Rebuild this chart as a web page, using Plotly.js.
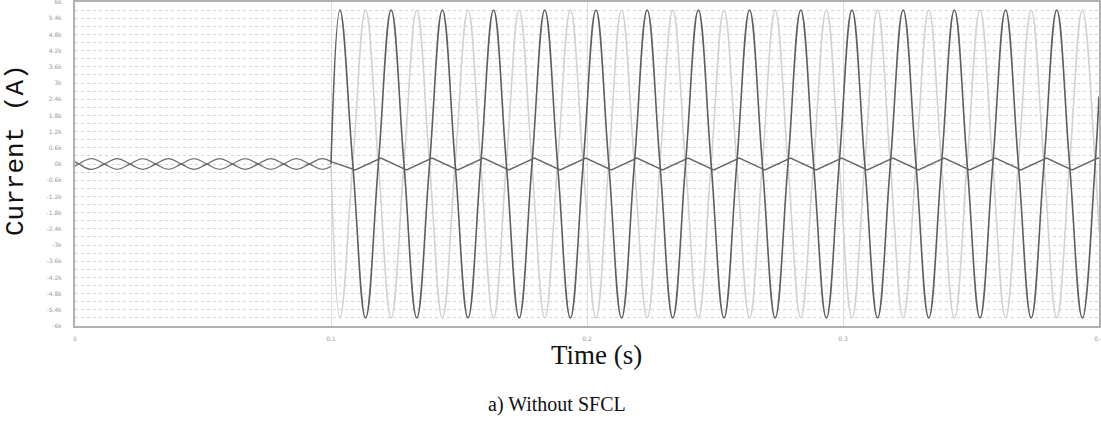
<!DOCTYPE html>
<html>
<head>
<meta charset="utf-8">
<script src="https://cdn.plot.ly/plotly-3.0.1.min.js"></script>
<style>html,body{margin:0;padding:0;background:#fff;}#chart{width:1101px;height:430px;}</style>
</head>
<body>
<div id="chart"></div>
<script>
// ---- data ----
// pre-fault (0 - 0.1 s): quarter-period sample times
var tPre = [0, 0.0015, 0.0065, 0.0115, 0.0165, 0.0215, 0.0265, 0.0315, 0.0365, 0.0415, 0.0465,
            0.0515, 0.0565, 0.0615, 0.0665, 0.0715, 0.0765, 0.0815, 0.0865, 0.0915, 0.0965, 0.1];
var preA = [90, 0, -200, 0, 200, 0, -200, 0, 200, 0, -200,
            0, 200, 0, -200, 0, 200, 0, -200, 0, 200, 90];
var preB = [-90, 0, 200, 0, -200, 0, 200, 0, -200, 0, 200,
            0, -200, 0, 200, 0, -200, 0, 200, 0, -200, -90];

// post-fault (0.1 - 0.4 s): large currents, quarter-period sample times
var tPost = [0.1, 0.1035, 0.1085, 0.1135, 0.1185, 0.1235, 0.1285, 0.1335, 0.1385, 0.1435, 0.1485,
             0.1535, 0.1585, 0.1635, 0.1685, 0.1735, 0.1785, 0.1835, 0.1885, 0.1935, 0.1985,
             0.2035, 0.2085, 0.2135, 0.2185, 0.2235, 0.2285, 0.2335, 0.2385, 0.2435, 0.2485,
             0.2535, 0.2585, 0.2635, 0.2685, 0.2735, 0.2785, 0.2835, 0.2885, 0.2935, 0.2985,
             0.3035, 0.3085, 0.3135, 0.3185, 0.3235, 0.3285, 0.3335, 0.3385, 0.3435, 0.3485,
             0.3535, 0.3585, 0.3635, 0.3685, 0.3735, 0.3785, 0.3835, 0.3885, 0.3935, 0.3985, 0.4];
var bigDark = [0, 5700, 0, -5700, 0, 5700, 0, -5700, 0, 5700, 0,
               -5700, 0, 5700, 0, -5700, 0, 5700, 0, -5700, 0,
               5700, 0, -5700, 0, 5700, 0, -5700, 0, 5700, 0,
               -5700, 0, 5700, 0, -5700, 0, 5700, 0, -5700, 0,
               5700, 0, -5700, 0, 5700, 0, -5700, 0, 5700, 0,
               -5700, 0, 5700, 0, -5700, 0, 5700, 0, -5700, 0, 2500];
var bigLight = [0, -5700, 0, 5700, 0, -5700, 0, 5700, 0, -5700, 0,
                5700, 0, -5700, 0, 5700, 0, -5700, 0, 5700, 0,
                -5700, 0, 5700, 0, -5700, 0, 5700, 0, -5700, 0,
                5700, 0, -5700, 0, 5700, 0, -5700, 0, 5700, 0,
                -5700, 0, 5700, 0, -5700, 0, 5700, 0, -5700, 0,
                5700, 0, -5700, 0, 5700, 0, -5700, 0, 5700, 0, -2500];

// post-fault small current: peak / trough times
var tSmall = [0.1, 0.1095, 0.1195, 0.1295, 0.1395, 0.1495, 0.1595, 0.1695, 0.1795, 0.1895, 0.1995,
              0.2095, 0.2195, 0.2295, 0.2395, 0.2495, 0.2595, 0.2695, 0.2795, 0.2895, 0.2995,
              0.3095, 0.3195, 0.3295, 0.3395, 0.3495, 0.3595, 0.3695, 0.3795, 0.3895, 0.3995, 0.4];
var small = [90, -220, 220, -220, 220, -220, 220, -220, 220, -220, 220,
             -220, 220, -220, 220, -220, 220, -220, 220, -220, 220,
             -220, 220, -220, 220, -220, 220, -220, 220, -220, 220, 200];

// axis ticks
var yTickVals = [6000, 5400, 4800, 4200, 3600, 3000, 2400, 1800, 1200, 600, 0,
                 -600, -1200, -1800, -2400, -3000, -3600, -4200, -4800, -5400, -6000];
var yTickText = ['6k', '5.4k', '4.8k', '4.2k', '3.6k', '3k', '2.4k', '1.8k', '1.2k', '0.6k', '0k',
                 '-0.6k', '-1.2k', '-1.8k', '-2.4k', '-3k', '-3.6k', '-4.2k', '-4.8k', '-5.4k', '-6k'];
var xTickVals = [0, 0.1, 0.2, 0.3, 0.4];
var xTickText = ['0', '0.1', '0.2', '0.3', '0.4'];

// ---- chart ----
var traces = [
  {x: tPost, y: bigLight, mode: 'lines', line: {color: '#d2d2d2', width: 1.6, shape: 'spline', smoothing: 1.2}},
  {x: tPre, y: preB, mode: 'lines', line: {color: '#7a7a7a', width: 1.4, shape: 'spline', smoothing: 1.2}},
  {x: tPre, y: preA, mode: 'lines', line: {color: '#6a6a6a', width: 1.4, shape: 'spline', smoothing: 1.2}},
  {x: tPost, y: bigDark, mode: 'lines', line: {color: '#5e5e5e', width: 1.6, shape: 'spline', smoothing: 1.2}},
  {x: tSmall, y: small, mode: 'lines', line: {color: '#666666', width: 1.4}}
];

function px2px(px) { return (px - 75) / 1024; }
function py2py(py) { return (326 - py) / 324; }

var layout = {
  width: 1101, height: 430,
  margin: {l: 75, r: 2, t: 2, b: 104},
  paper_bgcolor: '#ffffff', plot_bgcolor: '#ffffff',
  showlegend: false,
  xaxis: {
    range: [0, 0.4], tickvals: xTickVals, ticktext: xTickText,
    showgrid: true, gridcolor: '#dcdcdc', gridwidth: 1,
    zeroline: false, showline: true, mirror: true, linecolor: '#b0b0b0', linewidth: 2,
    ticks: '', ticklabelstandoff: 6, ticklabeloverflow: 'allow',
    tickfont: {family: 'DejaVu Sans', size: 6, color: '#9a9a9a'}
  },
  yaxis: {
    range: [-6000, 6000], tickvals: yTickVals, ticktext: yTickText,
    showgrid: true, gridcolor: '#d4d4d4', gridwidth: 1, griddash: 'dot',
    minor: {dtick: 300, tick0: 0, showgrid: true, gridcolor: '#d4d4d4', gridwidth: 1, griddash: 'dot'},
    zeroline: false, showline: true, mirror: true, linecolor: '#b0b0b0', linewidth: 2,
    ticks: '', ticklabelstandoff: 10, ticklabeloverflow: 'allow',
    tickfont: {family: 'DejaVu Sans', size: 6, color: '#9a9a9a'}
  },
  annotations: [
    {text: 'Current (A)', xref: 'paper', yref: 'paper', x: px2px(16), y: py2py(150),
     xanchor: 'center', yanchor: 'middle', textangle: -90, showarrow: false,
     font: {family: 'Liberation Mono', size: 26, color: '#111111'}},
    {text: 'Time (s)', xref: 'paper', yref: 'paper', x: px2px(596), y: py2py(355),
     xanchor: 'center', yanchor: 'middle', showarrow: false,
     font: {family: 'Liberation Serif', size: 27, color: '#111111'}},
    {text: 'a) Without SFCL', xref: 'paper', yref: 'paper', x: px2px(557), y: py2py(404),
     xanchor: 'center', yanchor: 'middle', showarrow: false,
     font: {family: 'Liberation Serif', size: 20, color: '#111111'}}
  ]
};

Plotly.newPlot('chart', traces, layout, {staticPlot: true, displayModeBar: false});
</script>
</body>
</html>
